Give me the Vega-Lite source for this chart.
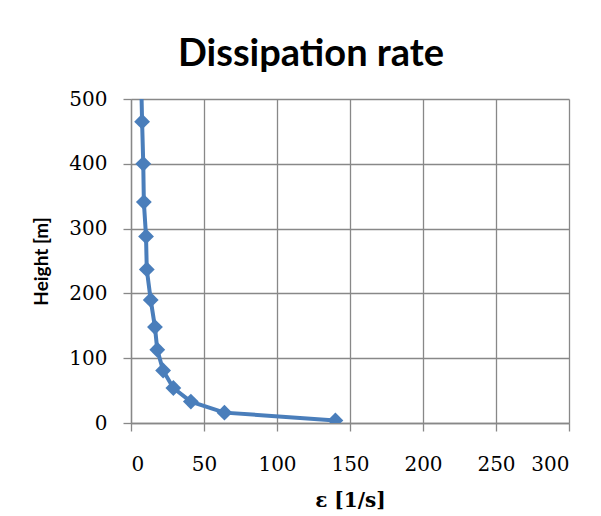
{
  "$schema": "https://vega.github.io/schema/vega-lite/v6.json",
  "autosize": {"type": "none"},
  "width": 438,
  "height": 324,
  "padding": {"left": 131, "top": 99, "right": 32, "bottom": 93},
  "background": "white",
  "title": {
    "text": "Dissipation rate",
    "font": "Lato",
    "fontWeight": "bold",
    "fontSize": 38,
    "color": "#000000",
    "anchor": "middle",
    "dx": -39,
    "baseline": "alphabetic",
    "offset": -15
  },
  "data": {
    "values": [
      {"eps": 140, "h": 4},
      {"eps": 64, "h": 16},
      {"eps": 41, "h": 33},
      {"eps": 29, "h": 54},
      {"eps": 22, "h": 81},
      {"eps": 18, "h": 113},
      {"eps": 16.4, "h": 148},
      {"eps": 13.5, "h": 190},
      {"eps": 10.8, "h": 237},
      {"eps": 10.3, "h": 288},
      {"eps": 8.8, "h": 341},
      {"eps": 8.4, "h": 400},
      {"eps": 7.6, "h": 465},
      {"eps": 6.8, "h": 545}
    ]
  },
  "encoding": {
    "x": {
      "field": "eps",
      "type": "quantitative",
      "scale": {"domain": [0, 300], "nice": false, "zero": false},
      "axis": {
        "values": [0, 50, 100, 150, 200, 250, 300],
        "title": "ε [1/s]",
        "titleFont": "DejaVu Serif",
        "titleFontWeight": "bold",
        "titleFontSize": 20,
        "titleColor": "#000000",
        "titlePadding": 16,
        "labelFont": "DejaVu Serif",
        "labelFontSize": 20,
        "labelColor": "#000000",
        "labelPadding": 23,
        "tickSize": 8,
        "tickColor": "#888888",
        "domainColor": "#888888",
        "gridColor": "#888888",
        "gridWidth": 1.3,
        "domainWidth": 1.3,
        "tickWidth": 1.3
      }
    },
    "y": {
      "field": "h",
      "type": "quantitative",
      "scale": {"domain": [0, 500], "nice": false},
      "axis": {
        "values": [0, 100, 200, 300, 400, 500],
        "title": "Height [m]",
        "titleFont": "Lato",
        "titleFontWeight": "bold",
        "titleFontSize": 19,
        "titleColor": "#000000",
        "titlePadding": 17,
        "labelFont": "DejaVu Serif",
        "labelFontSize": 20,
        "labelColor": "#000000",
        "labelPadding": 16,
        "tickSize": 8,
        "tickColor": "#888888",
        "domainColor": "#888888",
        "gridColor": "#888888",
        "gridWidth": 1.3,
        "domainWidth": 1.3,
        "tickWidth": 1.3
      }
    },
    "order": {"field": "h", "type": "quantitative"}
  },
  "layer": [
    {"mark": {"type": "line", "color": "#4A7EBB", "strokeWidth": 4, "clip": true}},
    {"mark": {"type": "point", "shape": "diamond", "filled": true, "opacity": 1, "color": "#4A7EBB", "size": 250, "clip": true}}
  ],
  "config": {"view": {"stroke": null}}
}
